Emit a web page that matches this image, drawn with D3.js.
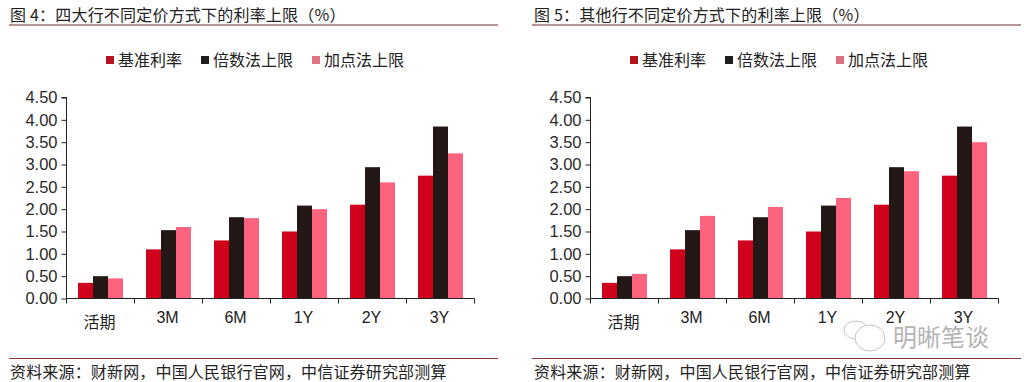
<!DOCTYPE html>
<html><head><meta charset="utf-8">
<style>html,body{margin:0;padding:0;background:#fff}svg{display:block}
text{font-family:"Noto Sans CJK SC","Liberation Sans",sans-serif;fill:#222}
.n{font-family:"Liberation Sans",Arial,sans-serif}</style>
<script src="https://cdn.jsdelivr.net/npm/d3@7/dist/d3.min.js"></script></head><body>
<svg id="c" width="1024" height="382"></svg>
<script>
const categories=["活期","3M","6M","1Y","2Y","3Y"];
const seriesNames=["基准利率","倍数法上限","加点法上限"];
const colors=["#d0021b","#231815","#fb637e"];
const legendColors=["#b5141f","#1e1e1e","#dd7385"];
const yTicks=[0,0.5,1,1.5,2,2.5,3,3.5,4,4.5];
const base=[0.35,1.10,1.30,1.50,2.10,2.75];
const multLeft=[0.50,1.53,1.82,2.08,2.94,3.85];
const addLeft=[0.45,1.60,1.80,2.00,2.60,3.25];
const multRight=[0.50,1.53,1.82,2.08,2.94,3.85];
const addRight=[0.55,1.85,2.05,2.25,2.85,3.50];
const titles=["图 4：四大行不同定价方式下的利率上限（%）","图 5：其他行不同定价方式下的利率上限（%）"];
const sourceText="资料来源：财新网，中国人民银行官网，中信证券研究部测算";
const svg=d3.select("#c");
function panel(o){
  const g=svg.append("g");
  g.append("text").attr("x",o.tx).attr("y",21).attr("font-size",16).attr("letter-spacing",0.2).text(o.title);
  g.append("line").attr("x1",o.rx1).attr("x2",o.rx2).attr("y1",25).attr("y2",25).attr("stroke","#6b2a2a").attr("stroke-width",1);
  g.append("line").attr("x1",o.rx1).attr("x2",o.rx2).attr("y1",358.5).attr("y2",358.5).attr("stroke","#8a3a3a").attr("stroke-width",1);
  g.append("text").attr("x",o.tx).attr("y",378).attr("font-size",16).attr("letter-spacing",0.17).text(sourceText);
  const x=d3.scaleBand().domain(categories).range([o.x0,o.x1]);
  const y=d3.scaleLinear().domain([0,4.5]).range([298.5,97.5]);
  const data=[base,o.mult,o.add];
  seriesNames.forEach((s,i)=>{
    g.selectAll(null).data(categories).enter().append("rect")
      .attr("x",c=>x(c)+x.bandwidth()/2+(i-1.5)*15)
      .attr("width",15)
      .attr("y",(c,j)=>y(data[i][j]))
      .attr("height",(c,j)=>y(0)-y(data[i][j]))
      .attr("fill",colors[i]);
  });
  const ay=g.append("g").attr("transform",`translate(${o.x0},0)`).call(d3.axisLeft(y).tickValues(yTicks).tickFormat(d3.format(".2f")).tickSize(5).tickPadding(4));
  const ax=g.append("g").attr("transform","translate(0,298.5)").call(d3.axisBottom(x).tickSize(5).tickSizeOuter(5).tickFormat(()=>""));
  ax.selectAll(".tick").remove();
  ax.selectAll(null).data(categories.concat("end")).enter().append("line")
    .attr("x1",(c,i)=>i<6?x(c):x.range()[1]).attr("x2",(c,i)=>i<6?x(c):x.range()[1]).attr("y1",0).attr("y2",5).attr("stroke","#222");
  ay.selectAll("path").attr("stroke","#222").attr("d",`M-5,97.5H0V298.5`);
  ay.selectAll("line").attr("stroke","#222");
  ax.selectAll("path").attr("stroke","#222").attr("d",`M${o.x0},0H${o.x1}`);
  ay.selectAll("text").attr("class","n").attr("font-size",16.5).style("fill","#2a2a2a");
  g.selectAll(null).data(categories).enter().append("text")
    .attr("x",c=>x(c)+x.bandwidth()/2-1).attr("y",c=>c==="活期"?328:323)
    .attr("text-anchor","middle").attr("font-size",16)
    .attr("class",c=>c==="活期"?"":"n").text(c=>c);
  const lx=[o.lg,o.lg+95,o.lg+206];
  seriesNames.forEach((s,i)=>{
    g.append("rect").attr("x",lx[i]).attr("y",56).attr("width",8).attr("height",8).attr("fill",legendColors[i]);
    g.append("text").attr("x",lx[i]+12).attr("y",65.5).attr("font-size",16).text(s);
  });
}
panel({tx:10,title:titles[0],rx1:9,rx2:498,x0:66.5,x1:474.5,mult:multLeft,add:addLeft,lg:106});
panel({tx:534,title:titles[1],rx1:532,rx2:1021,x0:590.5,x1:998.5,mult:multRight,add:addRight,lg:630});
const wm=svg.append("g");
wm.append("ellipse").attr("cx",856).attr("cy",330).attr("rx",12).attr("ry",9).attr("fill","none").attr("stroke","#c4c4c4");
wm.append("ellipse").attr("cx",870).attr("cy",338).attr("rx",15).attr("ry",13).attr("fill","#fff").attr("stroke","#c4c4c4");
wm.append("text").attr("x",893).attr("y",346).attr("font-size",24).style("fill","#b4b4b4").text("明晰笔谈");
</script></body></html>
